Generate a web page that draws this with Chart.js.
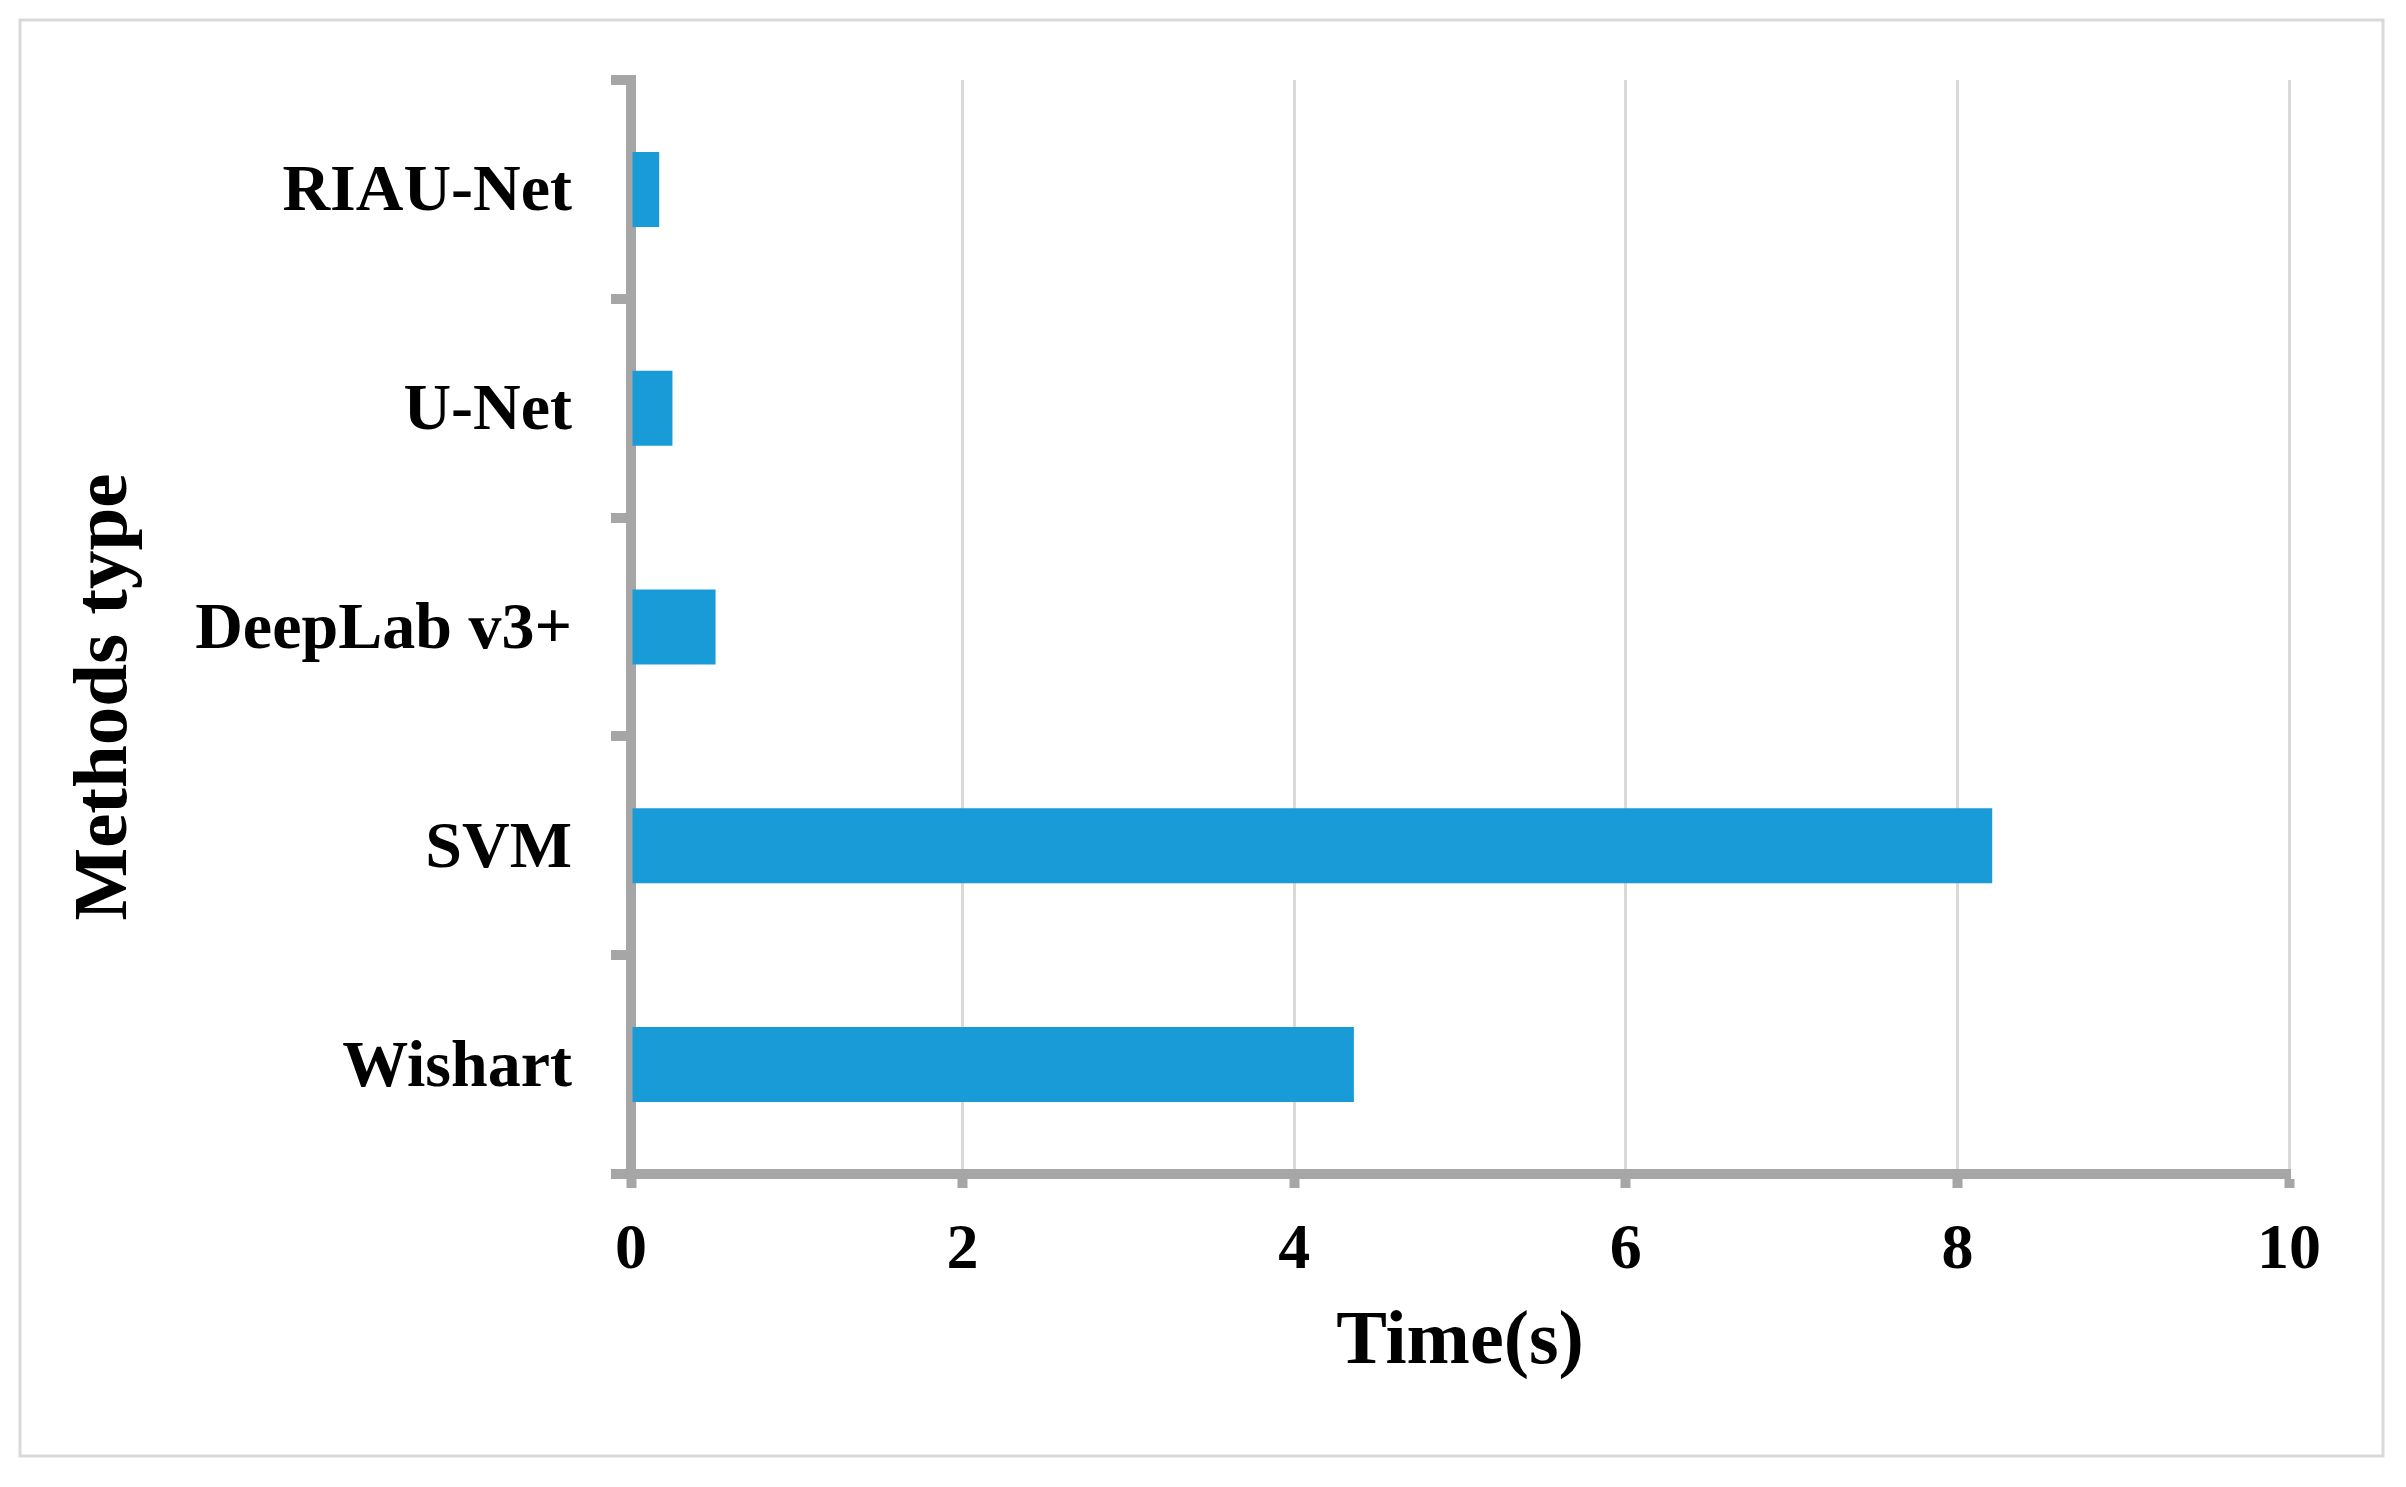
<!DOCTYPE html>
<html>
<head>
<meta charset="utf-8">
<script src="https://cdn.jsdelivr.net/npm/chart.js@4.4.1/dist/chart.umd.min.js"></script>
<style>
  html, body { margin: 0; padding: 0; background: #fff; }
  #wrap { width: 2406px; height: 1487px; }
</style>
</head>
<body>
<div id="wrap"><canvas id="myChart" width="2406" height="1487"></canvas></div>
<script>
var methods = ['RIAU-Net', 'U-Net', 'DeepLab v3+', 'SVM', 'Wishart'];
var times = [0.17, 0.25, 0.51, 8.21, 4.36];
var xTicks = [0, 2, 4, 6, 8, 10];

var serif = "'Liberation Serif', 'Times New Roman', serif";

// outer frame and the rotated y title
var framePlugin = {
  id: 'frame',
  beforeDraw: function (chart) {
    var c = chart.ctx;
    c.save();
    c.fillStyle = '#fff';
    c.fillRect(0, 0, chart.width, chart.height);
    c.strokeStyle = '#d9d9d9';
    c.lineWidth = 3;
    c.strokeRect(20, 20, 2363, 1436);
    c.restore();
  },
  afterDraw: function (chart) {
    var c = chart.ctx;
    c.save();
    c.translate(106, 697);
    c.rotate(-Math.PI / 2);
    c.font = 'bold 77px ' + serif;
    c.fillStyle = '#000';
    c.textAlign = 'center';
    c.textBaseline = 'middle';
    c.fillText('Methods type', 0, 0);
    c.restore();
  }
};

var ctx = document.getElementById('myChart').getContext('2d');
var myChart = new Chart(ctx, {
  type: 'bar',
  data: {
    labels: methods,
    datasets: [{
      data: times,
      backgroundColor: '#189bd7',
      borderWidth: 0,
      barPercentage: 0.343,
      categoryPercentage: 1
    }]
  },
  plugins: [framePlugin],
  options: {
    indexAxis: 'y',
    responsive: false,
    animation: false,
    layout: {
      padding: { left: 0, top: 80, right: 117, bottom: 0 }
    },
    plugins: {
      legend: { display: false },
      tooltip: { enabled: false }
    },
    scales: {
      x: {
        min: 0,
        max: 10,
        afterBuildTicks: function (s) {
          s.ticks = xTicks.map(function (v) { return { value: v }; });
        },
        afterFit: function (s) { s.height = 313; },
        grid: {
          color: '#d9d9d9',
          lineWidth: 3,
          tickColor: '#a6a6a6',
          tickWidth: 10,
          tickLength: 14
        },
        border: { display: true, color: '#a6a6a6', width: 10 },
        ticks: {
          color: '#000',
          padding: 25,
          font: { family: serif, size: 64, weight: 'bold' }
        },
        title: {
          display: true,
          text: 'Time(s)',
          color: '#000',
          font: { family: serif, size: 76, weight: 'bold' },
          padding: { top: 0, bottom: 98 }
        }
      },
      y: {
        z: 1,
        afterFit: function (s) { s.width = 631; },
        grid: {
          offset: true,
          drawOnChartArea: false,
          color: '#a6a6a6',
          lineWidth: 10,
          tickLength: 20
        },
        border: { display: true, color: '#a6a6a6', width: 10 },
        ticks: {
          color: '#000',
          padding: 39,
          labelOffset: 4,
          font: { family: serif, size: 66, weight: 'bold' }
        }
      }
    }
  }
});
</script>
</body>
</html>
